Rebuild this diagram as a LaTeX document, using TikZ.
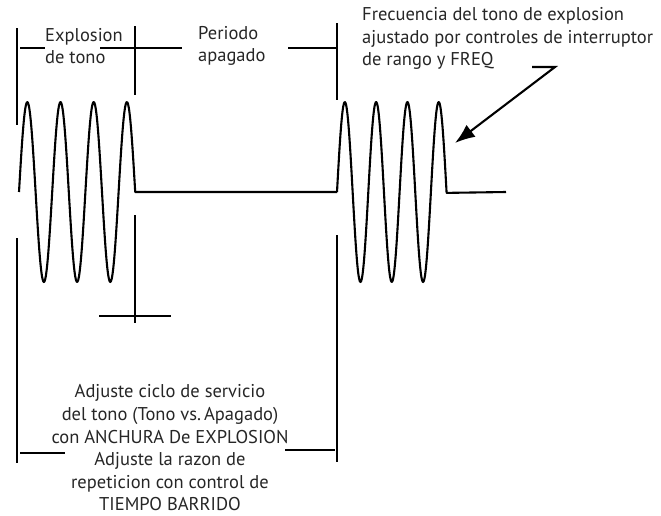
\documentclass[tikz,border=0pt]{standalone}
\usepackage{fontspec}
\setmainfont{PT Sans}
\usetikzlibrary{arrows.meta}
\tikzset{
  dimline/.style={line width=2.1pt},
  wave/.style={line width=2.1pt,line join=round},
  label/.style={inner sep=0pt,text=black!85,font=\fontsize{18.5}{22.6}\selectfont},
}
\begin{document}
\begin{tikzpicture}[x=1pt,y=-1pt]
    \useasboundingbox (0,0) rectangle (661,515);
    % Signal:
    % two bursts of tone joined by a flat line
    \draw [wave] plot [domain=19:135.2,samples=160,smooth] (\x,{192-90*sin((\x-19)/33.2*360)})
        -- (337,192)
        plot [domain=337:446.6,samples=160,smooth] (\x,{192-90*sin((\x-337)/31.3*360)})
        -- (506,192);
    % Dimension lines:
    \draw [dimline] (17,28) -- (17,125);
    \draw [dimline] (17,238) -- (17,463);
    \draw [dimline] (337,23) -- (337,100);
    \draw [dimline] (337,235) -- (337,462);
    \draw [dimline] (135,26) -- (135,95);
    \draw [dimline] (135,215) -- (135,323);
    \draw [dimline] (20,48) -- (45,48);
    \draw [dimline] (100,48) -- (182,48);
    \draw [dimline] (288,48) -- (337,48);
    \draw [dimline] (99,316) -- (171,316);
    \draw [dimline] (20,453) -- (65,453);
    \draw [dimline] (285,450) -- (335,450);
    % Labels:
    \node [label,anchor=west,align=left] (burst) at (45,46) {Explosion\\de tono};
    \node [label,anchor=west,align=left] (off) at (198,46) {Periodo\\apagado};
    \node [label,anchor=west,align=left] (freq) at (362,38.5)
        {Frecuencia del tono de explosion\\ajustado por controles de interruptor\\de rango y FREQ};
    \node [label,align=center] (duty) at (170,448)
        {Adjuste ciclo de servicio\\del tono (Tono vs.\,Apagado)\\con ANCHURA De EXPLOSION\\Adjuste la razon de\\repeticion con control de\\TIEMPO BARRIDO};
    % Pointer to the second burst:
    \coordinate (p0) at (532,67);
    \coordinate (p1) at (555,67);
    \coordinate (tip) at (455,143);
    \draw [line width=2.1pt,-{Latex[length=20pt,width=15pt]}] (p0) -- (p1) -- (tip);
\end{tikzpicture}
\end{document}
